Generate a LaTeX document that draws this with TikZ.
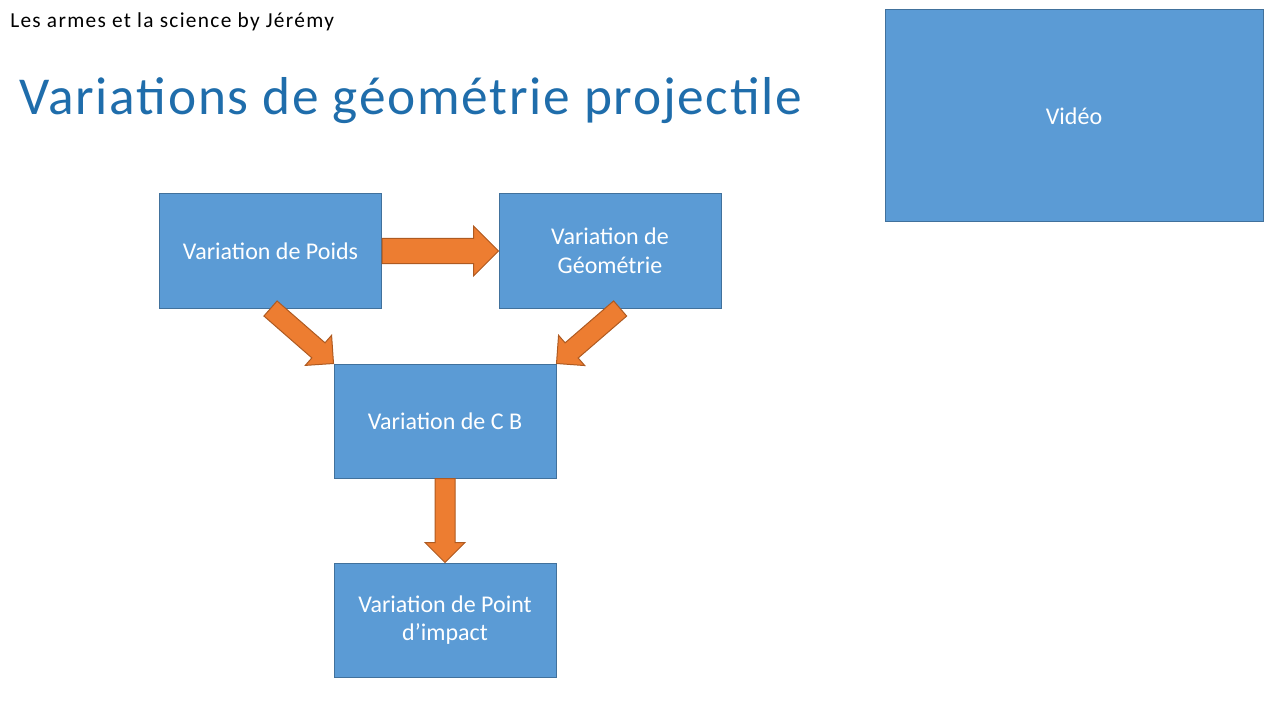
\documentclass[tikz,border=0pt]{standalone}
\usepackage{fontspec}
\setmainfont{Carlito}
\newfontfamily\headfont[LetterSpace=6.2]{Carlito}
\newfontfamily\titlefont[LetterSpace=3.3]{Carlito}
\usetikzlibrary{calc}
\definecolor{boxblue}{HTML}{5B9BD5}
\definecolor{boxline}{HTML}{41719C}
\definecolor{arrorange}{HTML}{ED7D31}
\definecolor{arrline}{HTML}{AE5A21}
\definecolor{titleblue}{HTML}{1F6DAB}
\newcommand{\blockarrow}[3][1]{
	\coordinate (H) at ($(#3)!#1*15pt!(#2)$);
	\draw[arrowstyle] ($(#2)!#1*7.5pt!90:(#3)$) -- ($(H)!#1*7.5pt!90:(#3)$)
		-- ($(H)!#1*15pt!90:(#3)$) -- (#3) -- ($(H)!#1*15pt!-90:(#3)$)
		-- ($(H)!#1*7.5pt!-90:(#3)$) -- ($(#2)!#1*7.5pt!-90:(#3)$) -- cycle;
}
\tikzset{
	bluebox/.style = {draw=boxline, fill=boxblue, line width=0.75pt, text=white,
		minimum width=166.5pt, minimum height=85.5pt, align=center,
		font=\fontsize{18}{21.6}\selectfont},
	arrowstyle/.style = {draw=arrline, fill=arrorange, line width=0.75pt, line join=miter}
}

\begin{document}
\begin{tikzpicture}[x=0.75pt, y=-0.75pt]
	\useasboundingbox (0,0) rectangle (1280,720);
	\node[anchor=base west, inner sep=0pt, font=\headfont\fontsize{16}{19}\selectfont] (auteur) at (10,28) {Les armes et la science by Jérémy};
	\node[anchor=base west, inner sep=0pt, text=titleblue, font=\titlefont\fontsize{40}{48}\selectfont] (titre) at (19,115) {Variations de géométrie projectile};
	\node[bluebox] (poids) at (270.5,251) {Variation de Poids};
	\node[bluebox] (geom) at (610,251) {Variation de\\Géométrie};
	\node[bluebox] (cb) at (445,421) {Variation de C B};
	\node[bluebox] (impact) at (445,620) {Variation de Point\\d’impact};
	\node[bluebox, minimum width=283.5pt, minimum height=159pt] (video) at (1074,116) {Vidéo};
	\blockarrow[1.25]{poids.east}{geom.west}
	\blockarrow{poids.south}{cb.north west}
	\blockarrow{geom.-80}{cb.north east}
	\blockarrow{cb.south}{impact.north}
\end{tikzpicture}
\end{document}
